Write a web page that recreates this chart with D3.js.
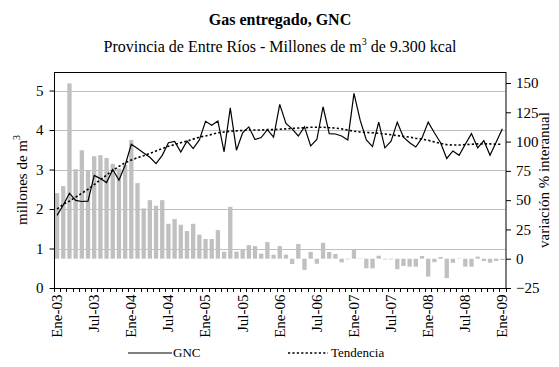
<!DOCTYPE html>
<html>
<head>
<meta charset="utf-8">
<script src="https://cdn.jsdelivr.net/npm/d3@7"></script>
<style>
  html, body { margin: 0; padding: 0; background: #fff; }
  svg text { font-family: "Liberation Serif", "Times New Roman", serif !important; fill: #000; }
</style>
</head>
<body>
<svg id="chart" width="559" height="367"></svg>
<script>
// Monthly series, Ene-03 .. Ene-09
const monthNames = ["Ene", "Feb", "Mar", "Abr", "May", "Jun", "Jul", "Ago", "Sep", "Oct", "Nov", "Dic"];
const years = ["03", "04", "05", "06", "07", "08", "09"];
const months = [];
years.forEach(y => monthNames.forEach(m => months.push(m + "-" + y)));
months.length = 73;

// Gas delivered (millones de m3)
const gnc = [
  1.84, 2.10, 2.40, 2.22, 2.19, 2.20, 2.85, 2.77, 2.67, 3.00, 2.73, 3.11,
  3.64, 3.53, 3.42, 3.31, 3.15, 3.36, 3.68, 3.71, 3.44, 3.72, 3.53, 3.75,
  4.22, 4.12, 4.23, 3.45, 4.56, 3.49, 3.93, 4.08, 3.76, 3.81, 4.01, 3.82,
  4.65, 4.17, 4.03, 3.85, 4.08, 3.60, 3.76, 4.59, 3.91, 3.90, 3.85, 3.75,
  4.93, 4.25, 3.75, 3.58, 4.20, 3.55, 3.72, 4.20, 3.82, 3.68, 3.57, 3.80,
  4.20, 3.93, 3.68, 3.28, 3.47, 3.36, 3.64, 3.91, 3.55, 3.73, 3.36, 3.70,
  4.03
];

// Trend (millones de m3)
const tendencia = [
  2.00, 2.12, 2.20, 2.30, 2.40, 2.50, 2.62, 2.74, 2.86, 2.98, 3.08, 3.17,
  3.24, 3.30, 3.35, 3.41, 3.47, 3.53, 3.59, 3.63, 3.68, 3.72, 3.77, 3.82,
  3.85, 3.89, 3.93, 3.95, 3.97, 3.98, 3.99, 4.00, 4.00, 4.00, 4.01, 4.01,
  4.02, 4.03, 4.04, 4.05, 4.06, 4.07, 4.07, 4.07, 4.06, 4.05, 4.03, 4.00,
  3.97, 3.95, 3.94, 3.93, 3.92, 3.90, 3.88, 3.86, 3.84, 3.82, 3.79, 3.77,
  3.74, 3.70, 3.66, 3.63, 3.62, 3.62, 3.63, 3.64, 3.65, 3.65, 3.65, 3.64,
  3.64
];

// Year-on-year change (%)
const variacion = [
  56, 62, 149.7, 76.4, 92.6, 75, 87.5, 88.4, 86, 81, 77, 80,
  101.4, 64.5, 42.9, 50, 45.2, 50, 29.8, 33.8, 29, 23.6, 29.8, 20.5,
  16.8, 16.8, 24.4, 6, 44.3, 6, 8.2, 11.6, 10.8, 4.3, 14.2, 3.4,
  10.8, 3.5, -4.5, 12.5, -9.5, 5.8, -4.3, 13.6, 5.8, 4, -3.1, -0.6,
  7.4, 0.3, -8.2, -8.2, 2.6, -0.6, -0.6, -9, -6.2, -6.8, -6.8, 2.3,
  -15.3, -3, 1.5, -16.6, -3.5, 0.3, -6.8, -6.8, 1.8, -2, -3.4, -2,
  -1.1
];

const leftTicks = [0, 1, 2, 3, 4, 5];
const rightTicks = [-25, 0, 25, 50, 75, 100, 125, 150];
const xLabelMonths = months.filter((m, i) => i % 6 === 0);

const FONT = '"Liberation Serif", "Times New Roman", serif';
const svg = d3.select("#chart");
const L = 54, R = 505.5, T = 72, B = 288;

const x = d3.scaleBand().domain(months).range([L, R]).paddingInner(0.3).paddingOuter(0.15);
const xc = d => x(d) + x.bandwidth() / 2;
const yL = d3.scaleLinear().domain([0, 5.47]).range([B, T]);
const yR = d3.scaleLinear().domain([-25, 159.4]).range([B, T]);

// Gridlines
svg.append("g").selectAll("line").data(leftTicks.slice(1)).join("line")
  .attr("x1", L).attr("x2", R)
  .attr("y1", d => Math.round(yL(d)) + 0.5).attr("y2", d => Math.round(yL(d)) + 0.5)
  .attr("stroke", "#c0c0c0").attr("stroke-width", 1);

// Bars on the secondary axis
svg.append("g").selectAll("rect").data(variacion).join("rect")
  .attr("x", (d, i) => x(months[i]))
  .attr("width", x.bandwidth())
  .attr("y", d => yR(Math.max(0, d)))
  .attr("height", d => Math.abs(yR(d) - yR(0)))
  .attr("fill", "#c0c0c0");

// Trend line
const lineGen = d3.line().x((d, i) => xc(months[i])).y(d => yL(d));
svg.append("path").datum(tendencia)
  .attr("d", lineGen).attr("fill", "none")
  .attr("stroke", "#000").attr("stroke-width", 1.6).attr("stroke-dasharray", "2.2,2.2");

// GNC line
svg.append("path").datum(gnc)
  .attr("d", lineGen).attr("fill", "none")
  .attr("stroke", "#000").attr("stroke-width", 1.2).attr("stroke-linejoin", "miter");

// Plot frame
svg.append("rect").attr("x", L + 0.5).attr("y", T + 0.5)
  .attr("width", R - L).attr("height", B - T)
  .attr("fill", "none").attr("stroke", "#000").attr("stroke-width", 1);

// Left axis
const axL = svg.append("g").attr("transform", `translate(${L + 0.5},0)`)
  .call(d3.axisLeft(yL).tickValues(leftTicks).tickSize(5).tickPadding(6).tickFormat(d3.format("d")));
axL.attr("font-family", null);
axL.select(".domain").remove();
axL.selectAll("text").style("font-family", FONT).style("font-size", "15px");

// Right axis
const axR = svg.append("g").attr("transform", `translate(${R + 0.5},0)`)
  .call(d3.axisRight(yR).tickValues(rightTicks).tickSize(5).tickPadding(5).tickFormat(d3.format("d")));
axR.attr("font-family", null);
axR.select(".domain").remove();
axR.selectAll("text").style("font-family", FONT).style("font-size", "15px");

// Bottom axis: month tick marks between categories
svg.append("g").selectAll("line").data(d3.range(months.length + 1)).join("line")
  .attr("x1", i => Math.round(L + i * (R - L) / months.length) + 0.5)
  .attr("x2", i => Math.round(L + i * (R - L) / months.length) + 0.5)
  .attr("y1", B).attr("y2", B + 4)
  .attr("stroke", "#000");

const axB = svg.append("g").attr("transform", `translate(0,${B + 0.5})`)
  .call(d3.axisBottom(x).tickValues(xLabelMonths).tickSize(0).tickPadding(0));
axB.attr("font-family", null);
axB.select(".domain").remove();
axB.selectAll("text")
  .style("font-family", FONT).style("font-size", "15px")
  .attr("transform", "rotate(-90)")
  .attr("text-anchor", "end")
  .attr("x", -6).attr("y", 0).attr("dy", "0.33em");

// Titles
svg.append("text").attr("x", 280).attr("y", 25).attr("text-anchor", "middle")
  .style("font-family", FONT).style("font-size", "16px").attr("font-weight", "bold").text("Gas entregado, GNC");

const sub = svg.append("text").attr("x", 280).attr("y", 52).attr("text-anchor", "middle")
  .style("font-family", FONT).style("font-size", "16px");
sub.append("tspan").text("Provincia de Entre Ríos - Millones de m");
sub.append("tspan").style("font-size", "10px").attr("dy", -7).text("3");
sub.append("tspan").attr("dy", 7).text(" de 9.300 kcal");

// Axis titles
const yt = svg.append("text").attr("transform", `translate(27,${(T + B) / 2}) rotate(-90)`)
  .attr("text-anchor", "middle").style("font-family", FONT).style("font-size", "15px");
yt.append("tspan").text("millones de m");
yt.append("tspan").style("font-size", "10px").attr("dy", -7).text("3");

svg.append("text").attr("transform", `translate(549,${(T + B) / 2}) rotate(-90)`)
  .attr("text-anchor", "middle").style("font-family", FONT).style("font-size", "15px")
  .text("variación % interanual");

// Legend
const lg = svg.append("g").attr("transform", "translate(0,357)");
lg.append("line").attr("x1", 128).attr("x2", 172).attr("y1", -4).attr("y2", -4)
  .attr("stroke", "#000").attr("stroke-width", 1.2);
lg.append("text").attr("x", 173).attr("y", 0).style("font-family", FONT).style("font-size", "13px").text("GNC");
lg.append("line").attr("x1", 288).attr("x2", 328).attr("y1", -4).attr("y2", -4)
  .attr("stroke", "#000").attr("stroke-width", 1.6).attr("stroke-dasharray", "2.2,2.2");
lg.append("text").attr("x", 331).attr("y", 0).style("font-family", FONT).style("font-size", "13px").text("Tendencia");
</script>
</body>
</html>
